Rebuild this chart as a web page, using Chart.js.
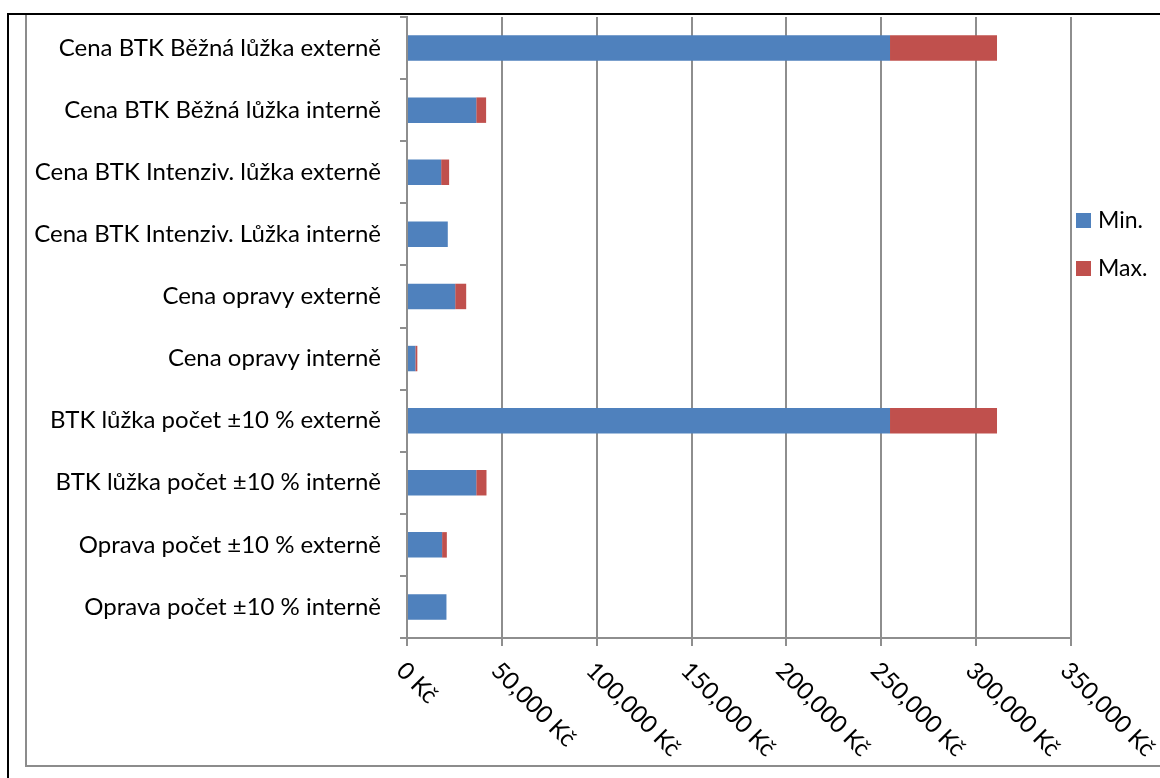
<!DOCTYPE html>
<html>
<head>
<meta charset="utf-8">
<script src="https://cdn.jsdelivr.net/npm/chart.js@4.4.1/dist/chart.umd.min.js"></script>
<style>
  html, body { margin: 0; padding: 0; background: #fff; }
  body { width: 1160px; height: 778px; position: relative; overflow: hidden; }
  #outer { position: absolute; left: 7px; top: 13px; width: 1200px; height: 800px; border-left: 2px solid #000; border-top: 2px solid #000; }
  #inner { position: absolute; left: 25px; top: 15px; width: 1200px; height: 750px; border-left: 2px solid #8c8c8c; border-bottom: 2px solid #8c8c8c; }
  #wrap { position: absolute; left: 0; top: 0; width: 1160px; height: 778px; }
</style>
</head>
<body>
<div id="outer"></div>
<div id="inner"></div>
<div id="wrap"><canvas id="barChart"></canvas></div>
<script>
// categories, top to bottom
const categories = [
  'Cena BTK Běžná lůžka externě',
  'Cena BTK Běžná lůžka interně',
  'Cena BTK Intenziv. lůžka externě',
  'Cena BTK Intenziv. Lůžka interně',
  'Cena opravy externě',
  'Cena opravy interně',
  'BTK lůžka počet ±10 % externě',
  'BTK lůžka počet ±10 % interně',
  'Oprava počet ±10 % externě',
  'Oprava počet ±10 % interně'
];
// stacked series values (Kč)
const minValues = [254600, 36500, 18000, 21500, 25400, 4400, 254600, 36500, 18500, 20800];
const maxValues = [56400, 5200, 4200, 0, 5800, 1050, 56400, 5400, 2500, 0];
const seriesNames = ['Min.', 'Max.'];
const seriesColors = ['#4F81BD', '#C0504D'];
// x axis ticks
const xMin = 0;
const xMax = 350000;
const xStep = 50000;

const FONT = 'Lato, "Open Sans", sans-serif';
const GRID = '#8e8e8e';

function fmtKc (v) {
  return v.toLocaleString('en-US') + ' Kč';
}

// rotated x tick labels + legend on the right
const extrasPlugin = {
  id: 'extras',
  afterDraw (chart) {
    const ctx = chart.ctx;
    const sc = chart.scales.x;
    ctx.save();
    ctx.fillStyle = '#000';
    ctx.font = '24px ' + FONT;
    ctx.textAlign = 'left';
    ctx.textBaseline = 'top';
    sc.ticks.forEach((t, i) => {
      const x = sc.getPixelForTick(i);
      ctx.save();
      ctx.translate(x + 2, sc.top + 20);
      ctx.rotate(Math.PI / 4);
      ctx.fillText(fmtKc(t.value), 0, 0);
      ctx.restore();
    });

    const lx = chart.chartArea.right + 5;
    ctx.font = '23px ' + FONT;
    ctx.textBaseline = 'middle';
    chart.data.datasets.forEach((ds, i) => {
      const ly = 213 + i * 48;
      ctx.fillStyle = ds.backgroundColor;
      ctx.fillRect(lx, ly, 15, 15);
      ctx.fillStyle = '#000';
      ctx.fillText(ds.label, lx + 22, ly + 8);
    });
    ctx.restore();
  }
};

const ctx = document.getElementById('barChart').getContext('2d');
window.myBarChart = new Chart(ctx, {
  type: 'bar',
  data: {
    labels: categories,
    datasets: [
      {
        label: seriesNames[0],
        data: minValues,
        backgroundColor: seriesColors[0],
        barPercentage: 0.41,
        categoryPercentage: 1,
      },
      {
        label: seriesNames[1],
        data: maxValues,
        backgroundColor: seriesColors[1],
        barPercentage: 0.41,
        categoryPercentage: 1,
      },
    ],
  },
  options: {
    indexAxis: 'y',
    responsive: true,
    maintainAspectRatio: false,
    animation: false,
    layout: {
      padding: { top: 17, right: 89, bottom: 0, left: 0 },
    },
    plugins: {
      legend: { display: false },
      tooltip: { enabled: false },
    },
    scales: {
      x: {
        stacked: true,
        min: xMin,
        max: xMax,
        ticks: { stepSize: xStep, display: false },
        grid: { color: GRID, lineWidth: 2, tickLength: 8 },
        border: { color: GRID, width: 2 },
        afterFit (scale) {
          scale.height = 140;
          scale.paddingLeft = 0;
          scale.paddingRight = 0;
        },
      },
      y: {
        stacked: true,
        ticks: { color: '#000', font: { family: FONT, size: 24 }, padding: 19 },
        grid: { drawOnChartArea: false, color: GRID, lineWidth: 2, tickLength: 7, offset: true },
        border: { color: GRID, width: 2 },
        afterFit (scale) {
          scale.width = 407;
          scale.paddingTop = 0;
          scale.paddingBottom = 0;
        },
      },
    },
  },
  plugins: [extrasPlugin],
});
</script>
</body>
</html>
